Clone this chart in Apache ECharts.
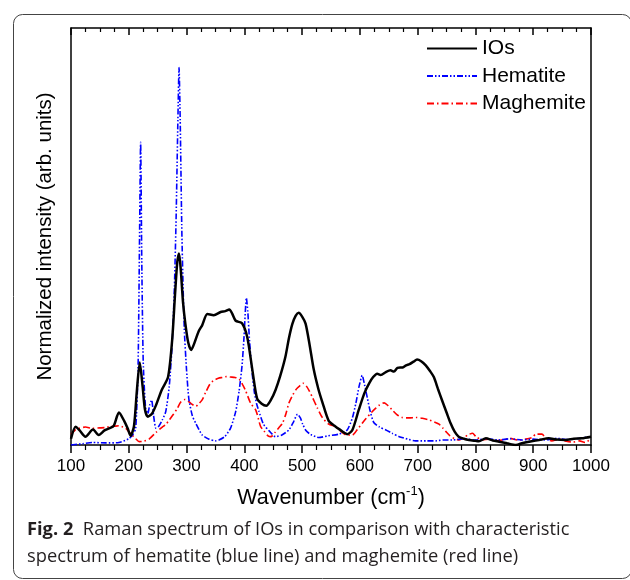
<!DOCTYPE html>
<html>
<head>
<meta charset="utf-8">
<script src="https://cdn.jsdelivr.net/npm/echarts@6/dist/echarts.min.js"></script>
<style>html,body{margin:0;padding:0;background:#fff;}#c{width:630px;height:580px;}</style>
</head>
<body>
<div id="c"></div>
<script>
// ---- data ----
const xTicks = [100, 200, 300, 400, 500, 600, 700, 800, 900, 1000];

const iosX = [100,108,115,125,138,148,158,166,174,183,192,198,203,209,214,219,224,228,233,240,247,257,268,275,280,284,287,290,294,298,303,308,315,321,327,336,347,359,367,374,379,385,396,405,414,422,430,438,446,454,462,471,477,483,489,494,500,506,513,520,528,535,546,556,564,578,587,598,608,616,623,630,636,645,653,659,665,674,680,686,693,699,706,714,721,728,735,742,750,757,764,771,780,789,800,806,818,830,841,855,870,882,893,910,927,940,956,970,984,1000];
const iosY = [1.5,4.4,3.5,2.0,3.7,2.4,3.5,4.0,4.6,7.8,5.8,4.0,2.2,4.5,13,19.8,14,8.5,6.8,7.5,9.5,13.2,16.3,25,36,44,45.9,42,34,29,24.5,22.8,25,27.3,28.7,31.4,31.1,31.9,32.1,32.5,31.5,29.8,29.2,25.9,17.9,11.2,9.9,9.4,10.8,13.2,16.5,21.1,25.5,29.0,31.0,31.7,30.8,29.1,24,18.2,13.5,10.3,5.8,4.6,3.8,2.6,3.6,8.4,12.5,14.8,16.3,17.1,16.8,17.5,17.9,17.6,18.5,18.6,19.1,19.4,20.0,20.5,20.1,19.1,17.8,16.3,13.5,10.8,7.8,5.2,3.2,2.0,1.5,1.2,1.0,0.9,1.6,1.1,0.8,0.4,0.0,0.5,0.8,1.2,1.6,1.3,1.2,1.5,1.6,2.0];

const hemX = [100,120,137,160,183,200,207,212,216,218.5,220.5,222.5,225,229,233,236,239.5,243,247,252,258,264,270,275,279,282,285,287,289,292,296,300,304,310,316,327,339,350,356,366,376,385,391,396,399.5,403.5,406,409,413,417,421,425,433,443,454,465,477,485,492,497,501,507,515,529,545,564,578,587,593,598.5,604,608,613,618,624,634,645,656,668,683,696,715,731,745,760,780,800,820,840,860,880,900,920,940,960,980,1000];
const hemY = [0.0,0.3,0.6,0.5,0.6,1.5,2.5,4,18,48,72.6,44,20,9,7.5,9.5,10.8,7,4,4.5,6,8,14,24,38,55,78,90.5,78,50,28,18,11,7,5.2,2.4,1.4,1.0,1.2,2.0,4.0,8,13,19,26,35.3,32,25,18,13,10,8.2,5,3.4,2.0,2.4,3.6,5.5,7.4,6.5,5.0,3.4,2.5,1.8,2.2,2.6,3.6,6.5,10,14,16.7,14.5,11.2,8,5.4,4.3,3.6,2.8,2.0,1.4,1.0,1.0,1.0,1.2,1.2,1.5,1.2,1.5,1.2,1.5,1.2,1.4,1.2,1.6,1.3,1.6,2.0];

const magX = [100,108,114,125,137,150,160,166,175,183,190,195,200,207,212,218,226,235,247,258,264,270,277,284,290,297,303,309,316,322,327,333,340,346,355,362,369,376,384,391,397,402,411,420,428,434,441,446,453,460,466,472,477,483,490,496,502,508,513,518,526,535,546,558,567,576,587,596,604,611,620,628,634,642,649,656,664,673,685,697,708,720,729,737,744,749,756,764,772,780,788,795,801,812,823,835,846,860,873,887,898,905,915,922,932,945,955,968,980,990,1000];
const magY = [2.5,3.7,4.0,4.3,4.0,4.1,4.2,4.4,4.5,4.6,4.3,4.0,3.2,2.2,1.5,0.8,0.9,1.4,3.0,4.3,4.9,6.0,7.3,8.8,10.3,10.9,10.5,9.8,9.3,10.0,10.8,12.6,14.5,15.4,16.0,16.2,16.4,16.3,16.2,15.8,14.5,13.1,10.0,8.3,4.5,3.4,2.2,2.0,3.0,4.2,5.2,7.5,10.0,11.8,13.4,14.2,14.8,14.0,12.8,11.4,9.0,6.6,5.0,4.4,3.3,2.4,2.4,3.8,5.2,6.4,7.8,8.9,9.6,10.1,9.4,8.4,7.3,6.6,6.5,6.6,6.4,6.0,5.5,5.0,4.0,3.2,2.2,1.5,1.2,1.8,2.5,2.8,2.0,1.2,1.4,1.0,1.2,1.6,1.2,1.4,1.8,2.6,2.6,1.6,1.0,1.4,1.0,0.7,1.0,0.6,1.6];

const seriesNames = ['IOs', 'Hematite', 'Maghemite'];
const caption1 = 'Raman spectrum of IOs in comparison with characteristic';
const caption2 = 'spectrum of hematite (blue line) and maghemite (red line)';

const pair = (xs, ys) => xs.map((x, i) => [x, ys[i]]);

const chart = echarts.init(document.getElementById('c'), null, {renderer: 'canvas'});
const AX = 'Liberation Sans, Arial, sans-serif';
const CAP = 'Open Sans, Noto Sans, sans-serif';

chart.setOption({
  animation: false,
  backgroundColor: '#fff',
  grid: {left: 71, right: 39, top: 28, bottom: 135, containLabel: false},
  legend: {
    orient: 'vertical', left: 426, top: 38, padding: 0,
    itemWidth: 50, itemHeight: 20, itemGap: 6.5,
    itemStyle: {color: 'rgba(0,0,0,0)', borderColor: 'rgba(0,0,0,0)', borderWidth: 0},
    textStyle: {fontFamily: AX, fontSize: 21, color: '#000'},
    data: seriesNames
  },
  xAxis: [{
    type: 'value', position: 'bottom', min: xTicks[0], max: xTicks[xTicks.length - 1], interval: 100,
    axisLine: {show: true, onZero: false, lineStyle: {color: '#000', width: 1.5}},
    axisTick: {show: true, inside: false, length: 8, lineStyle: {color: '#000', width: 1.5}},
    minorTick: {show: true, splitNumber: 4, length: 5, lineStyle: {color: '#000', width: 1.2}},
    axisLabel: {show: true, margin: 13, fontFamily: AX, fontSize: 17, color: '#000', formatter: v => String(v)},
    splitLine: {show: false},
    name: '{a|Wavenumber (cm}{s|-1}{a|)}', nameLocation: 'middle', nameGap: 40,
    nameTextStyle: {rich: {
      a: {fontFamily: AX, fontSize: 21.5, color: '#000', lineHeight: 26},
      s: {fontFamily: AX, fontSize: 13, color: '#000', verticalAlign: 'top', lineHeight: 26, padding: [0, 0, 8, 0]}
    }}
  }, {
    type: 'value', position: 'top', min: xTicks[0], max: xTicks[xTicks.length - 1], interval: 100,
    axisLine: {show: true, onZero: false, lineStyle: {color: '#000', width: 1.5}},
    axisTick: {show: true, inside: true, length: 7, lineStyle: {color: '#000', width: 1.5}},
    minorTick: {show: true, splitNumber: 4, length: 4, lineStyle: {color: '#000', width: 1.2}},
    axisLabel: {show: false},
    splitLine: {show: false}
  }],
  yAxis: [{
    type: 'value', position: 'left', min: 0, max: 100,
    axisLine: {show: true, onZero: false, lineStyle: {color: '#000', width: 1.5}},
    axisTick: {show: false}, axisLabel: {show: false}, splitLine: {show: false},
    name: 'Normalized intensity (arb. units)', nameLocation: 'middle', nameGap: 15,
    nameTextStyle: {fontFamily: AX, fontSize: 20.5, color: '#000'}
  }, {
    type: 'value', position: 'right', min: 0, max: 100,
    axisLine: {show: true, onZero: false, lineStyle: {color: '#000', width: 1.5}},
    axisTick: {show: false}, axisLabel: {show: false}, splitLine: {show: false}
  }],
  series: [{
    name: seriesNames[0], type: 'line', data: pair(iosX, iosY), symbol: 'none', smooth: 0.25, z: 3,
    lineStyle: {color: '#000', width: 2.5, type: 'solid'}, itemStyle: {color: '#000'}
  }, {
    name: seriesNames[1], type: 'line', data: pair(hemX, hemY), symbol: 'none', smooth: 0.2, z: 2,
    lineStyle: {color: '#0000ff', width: 1.6, type: [6, 2, 1.5, 2, 1.5, 2]}, itemStyle: {color: '#0000ff'}
  }, {
    name: seriesNames[2], type: 'line', data: pair(magX, magY), symbol: 'none', smooth: 0.25, z: 1,
    lineStyle: {color: '#ff0000', width: 1.6, type: [7, 3, 1.5, 3]}, itemStyle: {color: '#ff0000'}
  }],
  graphic: [{
    type: 'rect', left: 11, top: 12, silent: true,
    shape: {width: 618, height: 564, r: 9},
    style: {fill: 'none', stroke: '#444', lineWidth: 1}
  }, {
    type: 'text', left: 27, top: 521, silent: true,
    style: {
      text: '{b|Fig. 2}  ' + caption1,
      fontFamily: CAP, fontSize: 18.3, fill: '#231f20',
      rich: {b: {fontFamily: CAP, fontWeight: 'bold', fontSize: 18.3, fill: '#231f20'}}
    }
  }, {
    type: 'text', left: 27, top: 548, silent: true,
    style: {text: caption2, fontFamily: CAP, fontSize: 18.3, fill: '#231f20'}
  }]
});
</script>
</body>
</html>
